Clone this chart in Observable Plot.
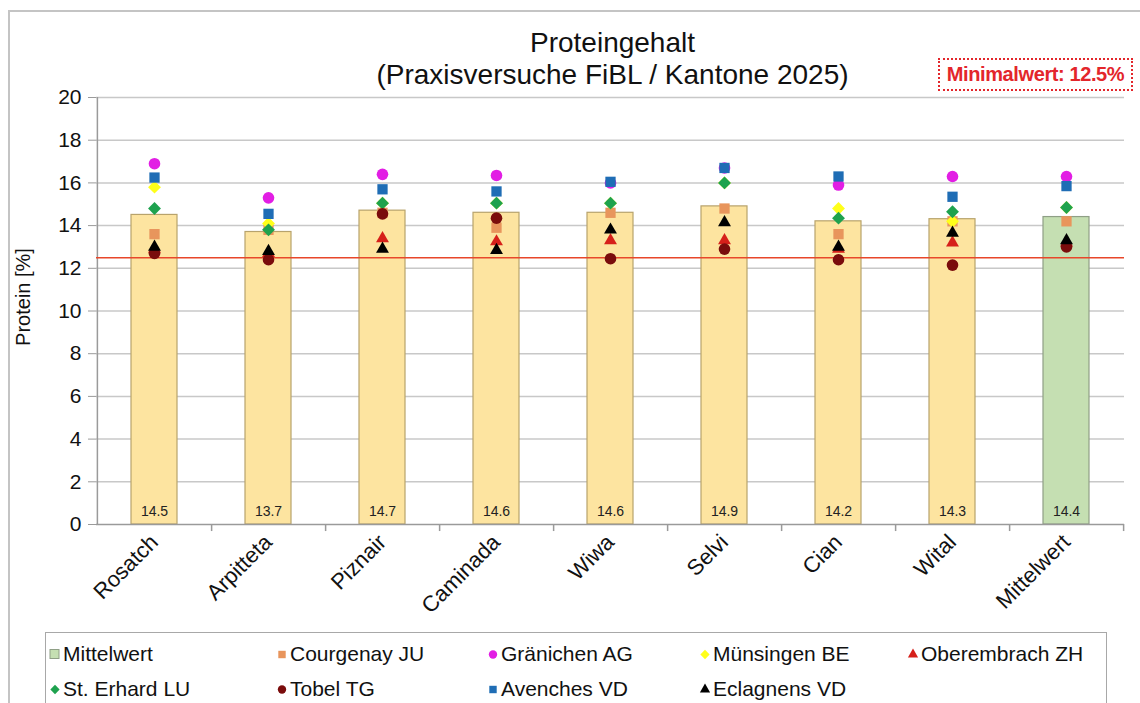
<!DOCTYPE html>
<html>
<head>
<meta charset="utf-8">
<script src="https://cdn.jsdelivr.net/npm/d3@7"></script>
<script src="https://cdn.jsdelivr.net/npm/@observablehq/plot@0.6"></script>
<style>
  html, body { margin: 0; padding: 0; background: #fff; }
  body { font-family: "Liberation Sans", Arial, sans-serif; }
  #page { position: relative; width: 1140px; height: 703px; overflow: hidden; }
  #outer { position: absolute; left: 8px; top: 10px; width: 1160px; height: 720px;
           border-left: 2px solid #c4c4c4; border-top: 2px solid #c4c4c4; }
  #chart { position: absolute; left: 0; top: 0; }
  #ylabel { position: absolute; left: 23px; top: 297px; transform: translate(-50%, -50%) rotate(-90deg);
            font-size: 20px; color: #111; white-space: nowrap; }
  #minbox { position: absolute; left: 938px; top: 58px; width: 191px; height: 29px;
            border: 2px dotted #e3262b; color: #e3262b; font-weight: bold; font-size: 20px;
            line-height: 29px; text-align: center; letter-spacing: -0.4px; }
  #legend { position: absolute; left: 45px; top: 632px; width: 1060px; height: 90px;
            border: 1.5px solid #a8a8a8; }
  .item { position: absolute; display: flex; align-items: center; font-size: 21px; color: #111;
          white-space: nowrap; }
  .item svg { margin-right: 2px; }
</style>
</head>
<body>
<div id="page">
  <div id="outer"></div>
  <div id="chart"></div>
  <div id="ylabel">Protein [%]</div>
  <div id="minbox"></div>
  <div id="legend"></div>
</div>
<script>
// Varieties and the overall mean column
const categories = ["Rosatch", "Arpitteta", "Piznair", "Caminada", "Wiwa", "Selvi", "Cian", "Wital", "Mittelwert"];
// Mean protein content per variety (bars)
const varietyMeans = [14.5, 13.7, 14.7, 14.6, 14.6, 14.9, 14.2, 14.3, 14.4];
// Protein content per trial site
const courgenayJU   = [13.6, 13.8, 14.6, 13.9, 14.6, 14.8, 13.6, 14.2, 14.2];
const graenichenAG  = [16.9, 15.3, 16.4, 16.35, 16.0, 16.7, 15.9, 16.3, 16.3];
const muensingenBE  = [15.8, 14.1, 15.05, 15.05, 15.05, 16.0, 14.8, 14.2, 14.85];
const oberembrachZH = [12.9, 12.7, 13.4, 13.25, 13.3, 13.3, 12.9, 13.2, 13.2];
const stErhardLU    = [14.8, 13.8, 15.05, 15.05, 15.05, 16.0, 14.35, 14.65, 14.85];
const tobelTG       = [12.7, 12.4, 14.55, 14.35, 12.45, 12.9, 12.4, 12.15, 13.0];
const avenchesVD    = [16.25, 14.55, 15.7, 15.6, 16.05, 16.7, 16.3, 15.35, 15.85];
const eclagnensVD   = [13.0, 12.8, 12.9, 12.85, 13.8, 14.15, 13.0, 13.65, 13.3];
// Minimum protein threshold
const minimumProtein = 12.5;
const yTicks = [0, 2, 4, 6, 8, 10, 12, 14, 16, 18, 20];

// Series in drawing order with their marker styles
const sites = [
  {name: "Courgenay JU",   values: courgenayJU,   symbol: "square",   fill: "#e8955c", r: 5.8},
  {name: "Gränichen AG",   values: graenichenAG,  symbol: "circle",   fill: "#e21ee4", r: 5.8},
  {name: "Münsingen BE",   values: muensingenBE,  symbol: "diamond2", fill: "#ffff1a", r: 5.8},
  {name: "Oberembrach ZH", values: oberembrachZH, symbol: "triangle", fill: "#d6201a", r: 4.8},
  {name: "St. Erhard LU",  values: stErhardLU,    symbol: "diamond2", fill: "#1ea24e", r: 5.8},
  {name: "Tobel TG",       values: tobelTG,       symbol: "circle",   fill: "#7a0c0c", r: 5.8},
  {name: "Avenches VD",    values: avenchesVD,    symbol: "square",   fill: "#1f6db5", r: 5.8},
  {name: "Eclagnens VD",   values: eclagnensVD,   symbol: "triangle", fill: "#000000", r: 4.8}
];

const bars = categories.map((cat, i) => ({cat, value: varietyMeans[i]}));
const marginLeft = 96, marginRight = 16;
const step = (1140 - marginLeft - marginRight) / categories.length;

const siteMarks = sites.map(s =>
  Plot.dot(categories.map((cat, i) => ({cat, value: s.values[i]})), {
    x: "cat", y: "value", symbol: s.symbol, fill: s.fill, r: s.r, stroke: "none"
  })
);

const chart = Plot.plot({
  width: 1140,
  height: 630,
  marginLeft,
  marginRight,
  marginTop: 97,
  marginBottom: 106,
  style: {fontFamily: "Liberation Sans, Arial, sans-serif", background: "transparent", color: "#111"},
  x: {domain: categories, paddingInner: 0.6, paddingOuter: 0.3, label: null},
  y: {domain: [0, 20], label: null},
  marks: [
    // horizontal grid
    Plot.ruleY(yTicks.filter(d => d > 0), {stroke: "#c8c8c8", strokeWidth: 1.5}),
    // bars
    Plot.barY(bars, {
      x: "cat", y: "value",
      fill: d => d.cat === "Mittelwert" ? "#c5dfb2" : "#fde4a0",
      stroke: d => d.cat === "Mittelwert" ? "#8f9f86" : "#b8a36c",
      strokeWidth: 1.2
    }),
    // value axis line and baseline
    Plot.ruleX([categories[0]], {dx: -step / 2, y1: 0, y2: 20, stroke: "#9a9a9a", strokeWidth: 1.5}),
    Plot.ruleY([0], {stroke: "#9a9a9a", strokeWidth: 1.5}),
    // category separators below baseline
    Plot.ruleX(categories, {dx: step / 2, y1: 0, y2: -0.33, stroke: "#9a9a9a", strokeWidth: 1.5}),
    // minimum threshold
    Plot.ruleY([minimumProtein], {stroke: "#e8472a", strokeWidth: 1.5}),
    // bar value labels
    Plot.text(bars, {x: "cat", y: 0, text: d => d.value.toFixed(1), dy: -13, fontSize: 14, fill: "#222"}),
    // site measurements
    ...siteMarks,
    // axes
    Plot.axisY(yTicks, {tickSize: 8, tickPadding: 7, fontSize: 21, stroke: "#9a9a9a", label: null}),
    Plot.axisX({tickRotate: -45, tickSize: 0, tickPadding: 14, fontSize: 22, label: null}),
    // chart title
    Plot.text(["Proteingehalt"], {frameAnchor: "top", dy: -65, dx: 2, fontSize: 28, fill: "#111"}),
    Plot.text(["(Praxisversuche FiBL / Kantone 2025)"], {frameAnchor: "top", dy: -33, dx: 2, fontSize: 28, fill: "#111"})
  ]
});
document.getElementById("chart").appendChild(chart);

document.getElementById("minbox").textContent = `Minimalwert: ${minimumProtein}%`;

// Legend
const legendItems = [
  {name: "Mittelwert", symbol: "legendBar"},
  ...sites
];
const legendPos = [
  [3, 9], [230, 9], [441, 9], [653, 9], [861, 9],
  [3, 44], [230, 44], [441, 44], [653, 44]
];
const legendOrder = ["Mittelwert", "Courgenay JU", "Gränichen AG", "Münsingen BE", "Oberembrach ZH",
                     "St. Erhard LU", "Tobel TG", "Avenches VD", "Eclagnens VD"];
const legend = document.getElementById("legend");
legendOrder.forEach((name, i) => {
  const it = legendItems.find(d => d.name === name);
  const div = document.createElement("div");
  div.className = "item";
  div.style.left = legendPos[i][0] + "px";
  div.style.top = legendPos[i][1] + "px";
  const svg = d3.create("svg").attr("width", 12).attr("height", 12);
  if (it.symbol === "legendBar") {
    svg.append("rect").attr("x", 1).attr("y", 1.5).attr("width", 9).attr("height", 9)
      .attr("fill", "#c5dfb2").attr("stroke", "#8f9f86");
  } else {
    const sym = {square: d3.symbolSquare, circle: d3.symbolCircle, diamond2: d3.symbolDiamond2, triangle: d3.symbolTriangle}[it.symbol];
    svg.append("path").attr("transform", "translate(6,6.5)")
      .attr("d", d3.symbol(sym, it.symbol === "triangle" ? 45 : 55)()).attr("fill", it.fill);
  }
  div.appendChild(svg.node());
  const span = document.createElement("span");
  span.textContent = name;
  div.appendChild(span);
  legend.appendChild(div);
});
</script>
</body>
</html>
